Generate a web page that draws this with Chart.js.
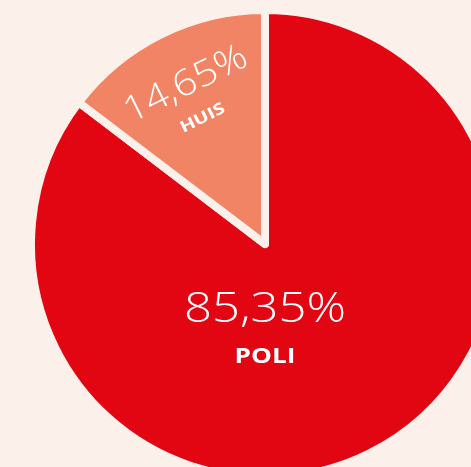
<!DOCTYPE html>
<html>
<head>
<meta charset="utf-8">
<script src="https://cdn.jsdelivr.net/npm/chart.js@4"></script>
<style>
    html, body { margin: 0; padding: 0; width: 471px; height: 467px; overflow: hidden; background: #fcf1ea; }
    #wrap { position: absolute; left: 27px; top: 6px; width: 476px; height: 476px; }
</style>
</head>
<body>
<div id="wrap"><canvas id="pieChart"></canvas></div>
<script>
const categories = ['POLI', 'HUIS'];
const shares = [85.35, 14.65];
const shareLabels = ['85,35%', '14,65%'];
const sliceColors = ['#e20613', '#f08464'];

// wide text: stretch horizontally around x,y
function wideText(ctx, text, x, y, font, stretch) {
    ctx.save();
    ctx.translate(x, y);
    ctx.scale(stretch, 1);
    ctx.font = font;
    ctx.fillText(text, 0, 0);
    ctx.restore();
}

// labels drawn inside the slices
const sliceLabels = {
    id: 'sliceLabels',
    afterDatasetsDraw(chart) {
        const ctx = chart.ctx;
        const arcs = chart.getDatasetMeta(0).data;
        ctx.save();
        ctx.fillStyle = '#ffffff';
        ctx.textAlign = 'center';
        ctx.textBaseline = 'middle';

        // POLI: centred below the middle
        const a = arcs[0];
        const r = a.outerRadius;
        wideText(ctx, shareLabels[0], a.x, a.y + r * 0.28, '300 43px "Open Sans"', 1.14);
        wideText(ctx, categories[0], a.x, a.y + r * 0.485, 'bold 21px "Open Sans"', 1.25);

        // HUIS: rotated along the slice middle
        const b = arcs[1];
        const mid = (b.startAngle + b.endAngle) / 2;
        ctx.translate(b.x, b.y);
        ctx.rotate(mid + Math.PI / 2);
        wideText(ctx, shareLabels[1], 0, -b.outerRadius * 0.76, '300 36px "Open Sans"', 1.12);
        wideText(ctx, categories[1], 0, -b.outerRadius * 0.6, 'bold 16px "Open Sans"', 1.25);
        ctx.restore();
    }
};

const context = document.getElementById('pieChart').getContext('2d');
new Chart(context, {
    type: 'pie',
    data: {
        labels: categories,
        datasets: [{
            data: shares,
            backgroundColor: sliceColors,
            borderColor: '#fcf1ea',
            borderWidth: 8,
            borderJoinStyle: 'round'
        }]
    },
    options: {
        responsive: true,
        maintainAspectRatio: false,
        animation: false,
        layout: { padding: 0 },
        plugins: {
            legend: { display: false },
            tooltip: { enabled: false }
        }
    },
    plugins: [sliceLabels]
});
</script>
</body>
</html>
